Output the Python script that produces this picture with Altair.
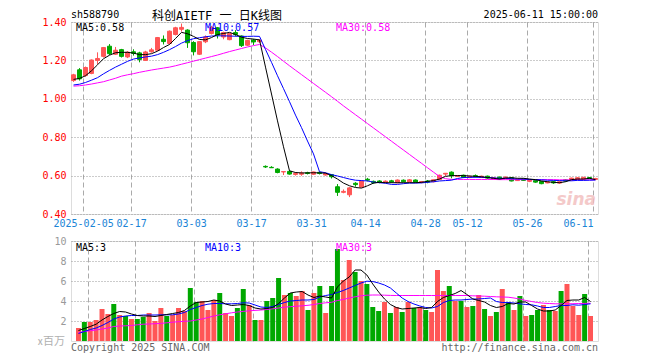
import json
import altair as alt
import pandas as pd

# ---------------- data ----------------
tick_idx = [2, 10, 20, 30, 40, 49, 59, 66, 76, 87]
tick_labels = ["2025-02-05", "02-17", "03-03", "03-17", "03-31",
               "04-14", "04-28", "05-12", "05-26", "06-11"]

open_ = [1.095, 1.151, 1.121, 1.132, 1.20, 1.221, 1.274, 1.232, 1.256, 1.218,
         1.245, 1.239, 1.20, 1.245, 1.253, 1.31, 1.288, 1.335, 1.362, 1.358,
         1.293, 1.232, 1.297, 1.34, 1.37, 1.322, 1.308, 1.345, 1.327, 1.279,
         1.306, 1.297, 0.648, 0.643, 0.634, 0.619, 0.622, 0.606, 0.607, 0.615,
         0.607, 0.617, 0.603, 0.605, 0.542, 0.513, 0.50, 0.56, 0.54, 0.581,
         0.57, 0.572, 0.564, 0.573, 0.563, 0.576, 0.567, 0.577, 0.565, 0.572,
         0.568, 0.579, 0.608, 0.618, 0.596, 0.602, 0.59, 0.60, 0.59, 0.597,
         0.582, 0.592, 0.584, 0.589, 0.574, 0.582, 0.57, 0.574, 0.569, 0.562,
         0.568, 0.561, 0.578, 0.577, 0.58, 0.582, 0.59, 0.58]
high = [1.13, 1.16, 1.168, 1.205, 1.242, 1.27, 1.285, 1.27, 1.26, 1.248,
        1.258, 1.245, 1.25, 1.265, 1.322, 1.33, 1.356, 1.375, 1.392, 1.362,
        1.30, 1.30, 1.33, 1.38, 1.374, 1.35, 1.343, 1.358, 1.33, 1.308,
        1.312, 1.31, 0.653, 0.649, 0.638, 0.622, 0.626, 0.618, 0.622, 0.62,
        0.621, 0.62, 0.616, 0.608, 0.556, 0.528, 0.54, 0.566, 0.575, 0.588,
        0.574, 0.576, 0.575, 0.578, 0.58, 0.58, 0.582, 0.58, 0.572, 0.577,
        0.58, 0.605, 0.613, 0.622, 0.602, 0.605, 0.60, 0.606, 0.60, 0.60,
        0.592, 0.595, 0.596, 0.592, 0.585, 0.585, 0.582, 0.576, 0.572, 0.57,
        0.573, 0.571, 0.58, 0.589, 0.592, 0.593, 0.592, 0.588]
low = [1.088, 1.095, 1.115, 1.128, 1.181, 1.215, 1.228, 1.228, 1.215, 1.212,
       1.225, 1.19, 1.198, 1.24, 1.25, 1.283, 1.283, 1.33, 1.35, 1.265,
       1.226, 1.228, 1.29, 1.335, 1.314, 1.31, 1.305, 1.325, 1.27, 1.275,
       1.28, 1.292, 0.64, 0.64, 0.612, 0.603, 0.605, 0.60, 0.599, 0.606,
       0.604, 0.606, 0.60, 0.585, 0.494, 0.508, 0.488, 0.542, 0.538, 0.57,
       0.558, 0.56, 0.561, 0.563, 0.56, 0.565, 0.565, 0.563, 0.56, 0.56,
       0.565, 0.577, 0.598, 0.586, 0.593, 0.587, 0.587, 0.59, 0.588, 0.583,
       0.58, 0.58, 0.582, 0.57, 0.572, 0.572, 0.566, 0.563, 0.555, 0.56,
       0.557, 0.558, 0.568, 0.575, 0.578, 0.58, 0.582, 0.578]
close = [1.125, 1.104, 1.163, 1.202, 1.21, 1.267, 1.235, 1.253, 1.221, 1.243,
         1.236, 1.205, 1.244, 1.255, 1.319, 1.298, 1.352, 1.37, 1.372, 1.292,
         1.245, 1.298, 1.322, 1.372, 1.332, 1.345, 1.34, 1.335, 1.277, 1.304,
         1.296, 1.306, 0.645, 0.641, 0.616, 0.621, 0.608, 0.611, 0.613, 0.611,
         0.619, 0.611, 0.61, 0.594, 0.513, 0.518, 0.536, 0.553, 0.572, 0.576,
         0.563, 0.565, 0.571, 0.567, 0.577, 0.568, 0.578, 0.566, 0.569, 0.566,
         0.578, 0.602, 0.612, 0.60, 0.60, 0.59, 0.596, 0.595, 0.597, 0.587,
         0.589, 0.583, 0.592, 0.572, 0.581, 0.575, 0.577, 0.566, 0.558, 0.567,
         0.562, 0.568, 0.572, 0.587, 0.589, 0.591, 0.585, 0.585]
ma5 = [1.101, 1.106, 1.12, 1.146, 1.177, 1.209, 1.227, 1.24, 1.242, 1.242,
       1.238, 1.23, 1.23, 1.235, 1.248, 1.267, 1.283, 1.314, 1.346, 1.339,
       1.325, 1.309, 1.307, 1.319, 1.335, 1.34, 1.346, 1.335, 1.321, 1.314,
       1.311, 1.307, 1.165, 1.025, 0.885, 0.75, 0.625, 0.616, 0.614, 0.614,
       0.615, 0.614, 0.613, 0.60, 0.582, 0.561, 0.547, 0.538, 0.535, 0.547,
       0.561, 0.565, 0.563, 0.563, 0.563, 0.563, 0.563, 0.563, 0.565, 0.57,
       0.574, 0.582, 0.596, 0.60, 0.60, 0.60, 0.598, 0.596, 0.594, 0.59,
       0.586, 0.582, 0.587, 0.589, 0.586, 0.586, 0.582, 0.579, 0.572, 0.568,
       0.565, 0.563, 0.568, 0.579, 0.582, 0.582, 0.586, 0.579]
ma10 = [1.072, 1.076, 1.085, 1.097, 1.11, 1.13, 1.148, 1.165, 1.18, 1.195,
        1.207, 1.213, 1.218, 1.222, 1.23, 1.242, 1.256, 1.272, 1.29, 1.303,
        1.313, 1.318, 1.323, 1.327, 1.328, 1.328, 1.327, 1.326, 1.325, 1.325,
        1.326, 1.325, 1.257, 1.19, 1.12, 1.053, 0.985, 0.915, 0.85, 0.78,
        0.713, 0.62, 0.615, 0.605, 0.598, 0.59, 0.582, 0.576, 0.574, 0.572,
        0.566, 0.563, 0.56, 0.554, 0.554, 0.558, 0.561, 0.561, 0.562, 0.565,
        0.568, 0.572, 0.574, 0.576, 0.585, 0.59, 0.591, 0.591, 0.591, 0.59,
        0.588, 0.586, 0.586, 0.584, 0.582, 0.582, 0.58, 0.579, 0.578, 0.576,
        0.575, 0.574, 0.573, 0.573, 0.575, 0.575, 0.576, 0.577]
ma30 = [1.066, 1.068, 1.072, 1.077, 1.083, 1.089, 1.098, 1.107, 1.118, 1.125,
        1.131, 1.138, 1.144, 1.15, 1.155, 1.16, 1.165, 1.172, 1.18, 1.188,
        1.196, 1.204, 1.212, 1.22, 1.228, 1.237, 1.246, 1.254, 1.262, 1.27,
        1.277, 1.283, 1.265, 1.243, 1.22, 1.196, 1.172, 1.149, 1.126, 1.103,
        1.08, 1.057, 1.034, 1.011, 0.987, 0.963, 0.94, 0.917, 0.894, 0.871,
        0.848, 0.825, 0.802, 0.779, 0.756, 0.733, 0.71, 0.687, 0.664, 0.641,
        0.618, 0.595, 0.584, 0.58, 0.58, 0.58, 0.58, 0.58, 0.58, 0.58,
        0.58, 0.579, 0.579, 0.579, 0.579, 0.579, 0.579, 0.579, 0.579, 0.579,
        0.579, 0.578, 0.578, 0.578, 0.578, 0.578, 0.578, 0.578]
vol = [1.3, 1.9, 1.9, 2.1, 3.2, 2.7, 3.7, 2.6, 2.5, 2.2,
       2.2, 2.4, 2.8, 2.0, 3.3, 2.5, 2.6, 3.3, 3.0, 5.3,
       3.9, 4.0, 3.1, 4.1, 4.8, 2.8, 2.5, 3.3, 5.2, 3.6,
       2.1, 2.1, 4.0, 4.3, 6.3, 4.6, 4.8, 4.5, 5.0, 3.1,
       4.8, 5.5, 2.8, 5.5, 9.2, 6.1, 8.1, 6.9, 6.0, 5.7,
       3.4, 3.0, 3.9, 2.8, 3.4, 2.9, 3.9, 3.3, 3.4, 3.1,
       2.9, 7.1, 5.0, 5.5, 4.0, 4.0, 3.4, 3.5, 4.6, 3.2,
       2.5, 2.9, 5.2, 3.9, 3.1, 4.5, 2.5, 2.6, 3.1, 3.6,
       3.1, 3.0, 5.0, 5.7, 3.5, 2.6, 4.7, 2.5]
vma5 = [1.05, 1.25, 1.45, 1.68, 2.1, 2.45, 2.75, 2.95, 2.9, 2.7,
        2.55, 2.5, 2.5, 2.45, 2.55, 2.65, 2.75, 2.85, 3.05, 3.5,
        3.85, 3.9, 3.95, 4.1, 4.0, 3.7, 3.55, 3.6, 3.65, 3.55,
        3.3, 3.2, 3.25, 3.35, 3.75, 4.3, 4.8, 4.9, 4.95, 4.6,
        4.35, 4.5, 4.4, 4.3, 5.4, 6.0, 6.4, 7.1, 7.1, 6.6,
        5.7, 4.9, 4.2, 3.65, 3.35, 3.2, 3.25, 3.3, 3.35, 3.25,
        3.35, 3.95, 4.35, 4.55, 4.75, 5.05, 4.65, 4.2, 4.05, 3.9,
        3.55, 3.35, 3.45, 3.75, 3.7, 3.9, 3.9, 3.55, 3.2, 3.0,
        3.0, 3.1, 3.55, 4.05, 4.1, 4.1, 4.35, 3.95]
vma10 = [0.75, 0.95, 1.15, 1.3, 1.55, 1.85, 2.2, 2.4, 2.5, 2.55,
         2.55, 2.6, 2.6, 2.6, 2.62, 2.62, 2.62, 2.7, 2.85, 3.15,
         3.35, 3.55, 3.68, 3.75, 3.75, 3.72, 3.72, 3.75, 3.82, 3.8,
         3.6, 3.4, 3.35, 3.45, 3.65, 3.85, 4.0, 4.05, 4.1, 4.1,
         4.15, 4.4, 4.55, 4.65, 4.85, 5.05, 5.3, 5.55, 5.8, 5.98,
         5.95, 5.8, 5.6, 5.3, 4.8, 4.3, 3.95, 3.7, 3.5, 3.35,
         3.3, 3.45, 3.85, 4.05, 4.1, 4.1, 4.15, 4.2, 4.2, 4.25,
         4.3, 3.95, 3.85, 3.85, 3.8, 3.72, 3.65, 3.62, 3.5, 3.35,
         3.35, 3.45, 3.55, 3.55, 3.62, 3.58, 3.65, 3.72]
vma30 = [0.85, 0.95, 1.02, 1.1, 1.2, 1.3, 1.45, 1.5, 1.52, 1.55,
         1.62, 1.68, 1.7, 1.73, 1.76, 1.82, 1.88, 1.93, 1.97, 2.0,
         2.1, 2.2, 2.35, 2.5, 2.62, 2.72, 2.82, 2.9, 2.96, 3.02,
         3.06, 3.1, 3.15, 3.22, 3.3, 3.38, 3.43, 3.48, 3.52, 3.57,
         3.65, 3.75, 3.82, 3.87, 4.05, 4.15, 4.3, 4.42, 4.52, 4.58,
         4.6, 4.6, 4.58, 4.56, 4.55, 4.55, 4.55, 4.55, 4.55, 4.55,
         4.55, 4.55, 4.55, 4.55, 4.55, 4.55, 4.55, 4.52, 4.5, 4.48,
         4.45, 4.42, 4.4, 4.38, 4.3, 4.2, 4.05, 3.95, 3.85, 3.78,
         3.75, 3.72, 3.72, 3.72, 3.73, 3.75, 3.76, 3.77]

n = len(close)
for arr in (open_, high, low, vol, ma5, ma10, ma30, vma5, vma10, vma30):
    assert len(arr) == n, len(arr)

df = pd.DataFrame({
    "i": list(range(n)), "open": open_, "high": high, "low": low, "close": close,
    "vol": vol, "ma5": ma5, "ma10": ma10, "ma30": ma30,
    "vma5": vma5, "vma10": vma10, "vma30": vma30,
})

# ---------------- styling ----------------
RED = "#ff5656"
GREEN = "#00a800"
MONO = "DejaVu Sans Mono"
CJK = "Noto Sans Mono CJK SC, Noto Sans CJK SC"
TITLE_FONT = "DejaVu Sans Mono, Noto Sans CJK SC"
W, HP, HV = 527, 192, 100

label_arr = [""] * n
for k, t in zip(tick_idx, tick_labels):
    label_arr[k] = t
tick_vals = [k - 0.4 for k in tick_idx]
label_expr = json.dumps(label_arr) + "[round(datum.value)]"

xscale = alt.Scale(domain=[-0.42, n - 1 + 0.42], nice=False, zero=False)
x_axis_price = alt.Axis(values=tick_vals, labelExpr=label_expr, grid=True,
                        gridDash=[5, 3], gridColor="#aaaaaa", domain=False,
                        ticks=False, labelColor="#1a84d6", labelFont=MONO,
                        labelFontSize=10, labelPadding=4, labelFlush=6,
                        labelOverlap=False, title=None)
x_axis_vol = alt.Axis(values=tick_vals, labels=False, grid=True,
                      gridDash=[5, 3], gridColor="#aaaaaa", domain=False,
                      ticks=False, title=None)
yscale_p = alt.Scale(domain=[0.4, 1.4], nice=False, zero=False)
y_axis_p = alt.Axis(values=[0.4, 0.6, 0.8, 1.0, 1.2, 1.4], format=".2f",
                    grid=True, gridDash=[1, 2], gridColor="#999999",
                    domain=False, ticks=False, labelColor="#ff0000",
                    labelFont=MONO, labelFontSize=10, labelPadding=5,
                    title=None)
yscale_v = alt.Scale(domain=[0, 10], nice=False, zero=True)
y_axis_v = alt.Axis(values=[2, 4, 6, 8, 10], format="d",
                    grid=True, gridDash=[1, 2], gridColor="#999999",
                    domain=False, ticks=False, labelColor="#999999",
                    labelFont=MONO, labelFontSize=10, labelPadding=5,
                    title=None)
dir_color = alt.Color("dir:N", scale=alt.Scale(domain=["up", "down"],
                                               range=[RED, GREEN]), legend=None)

base = alt.Chart(df).transform_calculate(
    dir="datum.close >= datum.open ? 'up' : 'down'",
    xa="datum.i - 0.33", xb="datum.i + 0.33")

X = alt.X("i:Q", scale=xscale, axis=x_axis_price)

wicks = base.mark_rule(strokeWidth=1).encode(
    x=X, y=alt.Y("low:Q", scale=yscale_p, axis=y_axis_p), y2="high:Q",
    color=dir_color)
bodies = base.mark_rect(strokeWidth=1).encode(
    x=alt.X("xa:Q", scale=xscale, axis=x_axis_price), x2="xb:Q",
    y=alt.Y("open:Q", scale=yscale_p, axis=y_axis_p), y2="close:Q",
    color=dir_color, stroke=dir_color)


def ma_line(field, color, yscale, yaxis, xaxis):
    return alt.Chart(df).mark_line(strokeWidth=1, color=color).encode(
        x=alt.X("i:Q", scale=xscale, axis=xaxis),
        y=alt.Y(f"{field}:Q", scale=yscale, axis=yaxis))


def label(text, x, y, color, font=MONO, size=10, align="left", baseline="alphabetic", **kw):
    return alt.Chart(pd.DataFrame({"t": [text]})).mark_text(
        align=align, baseline=baseline, font=font, fontSize=size, color=color, **kw
    ).encode(text="t:N", x=alt.value(x), y=alt.value(y))


# invisible spacers: plot area 62px from the left edge, room above for the title
spacer_p = label(".", -62, 100, "#ffffff", opacity=0)
spacer_top = label(".", 40, -13.5, "#ffffff", baseline="top", opacity=0)
spacer_v = label(".", -62, 50, "#ffffff", opacity=0)

price = alt.layer(
    wicks, bodies,
    ma_line("ma30", "#ff00ff", yscale_p, y_axis_p, x_axis_price),
    ma_line("ma10", "#0000ff", yscale_p, y_axis_p, x_axis_price),
    ma_line("ma5", "#000000", yscale_p, y_axis_p, x_axis_price),
    label("MA5:0.58", 5, 9, "#000000"),
    label("MA10:0.57", 134, 9, "#0000ff"),
    label("MA30:0.58", 265, 9, "#ff00ff"),
    label("sh588790", 0, -4, "#000000"),
    label("科创AIETF 一 日K线图", 146, -2.3, "#000000", font=TITLE_FONT, size=12, align="center"),
    label("2025-06-11 15:00:00", W, -4, "#000000", align="right"),
    label("sina", W - 2, 183, "#f2bcbc", font="DejaVu Sans", size=17,
          align="right", fontStyle="italic", fontWeight="bold", opacity=0.8),
    spacer_p, spacer_top,
).properties(width=W, height=HP)

XV = alt.X("i:Q", scale=xscale, axis=x_axis_vol)
vbars = base.mark_bar(size=5).encode(
    x=XV, y=alt.Y("vol:Q", scale=yscale_v, axis=y_axis_v), color=dir_color)

volume = alt.layer(
    vbars,
    ma_line("vma30", "#ff00ff", yscale_v, y_axis_v, x_axis_vol),
    ma_line("vma10", "#0000ff", yscale_v, y_axis_v, x_axis_vol),
    ma_line("vma5", "#000000", yscale_v, y_axis_v, x_axis_vol),
    label("MA5:3", 5, 9.5, "#000000"),
    label("MA10:3", 134, 9.5, "#0000ff"),
    label("MA30:3", 265, 9.5, "#ff00ff"),
    label("x百万", -6, 101, "#b0b0b0", font=CJK, size=11, align="right", baseline="middle"),
    label("Copyright 2025 SINA.COM", 0, 109.5, "#666666"),
    label("http://finance.sina.com.cn", W, 109.5, "#666666", align="right"),
    spacer_v,
).properties(width=W, height=HV)

chart = alt.vconcat(price, volume, spacing=6).properties(
    padding=0
).configure_view(
    stroke="#999999", strokeWidth=1
).configure(background="white")

chart.save("out.html", embed_options={"renderer": "svg", "actions": False})
